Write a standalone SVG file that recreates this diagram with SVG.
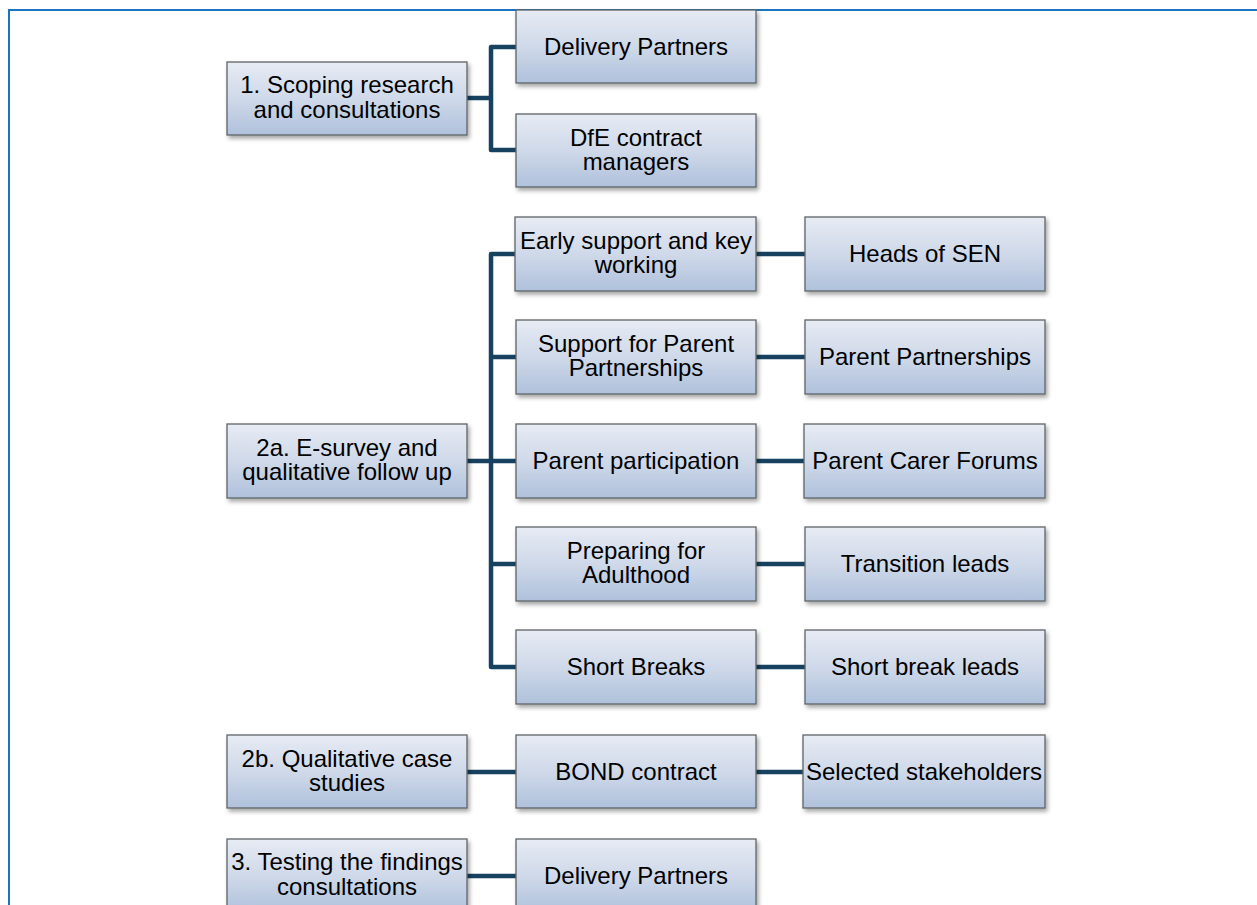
<svg xmlns="http://www.w3.org/2000/svg" width="1257" height="905" viewBox="0 0 1257 905">
<style>
.box{fill:url(#g);stroke:#5f6468;stroke-width:1.3;filter:url(#sh)}
.t{font-family:"Liberation Sans",Arial,sans-serif;font-size:24px;fill:#000;text-anchor:middle}
.c{fill:none;stroke:#17425f;stroke-width:4.5;stroke-linejoin:round}
</style>
<defs>
<linearGradient id="g" x1="0" y1="0" x2="0" y2="1">
<stop offset="0" stop-color="#e7ebf4"/>
<stop offset="0.5" stop-color="#cfd9e9"/>
<stop offset="1" stop-color="#afc1dc"/>
</linearGradient>
<filter id="sh" x="-10%" y="-10%" width="120%" height="130%">
<feDropShadow dx="2" dy="3" stdDeviation="2" flood-color="#000" flood-opacity="0.35"/>
</filter>
</defs>
<rect width="1257" height="905" fill="#fff"/>
<rect x="9" y="10" width="1270" height="920" fill="none" stroke="#1a74c2" stroke-width="2"/>
<g id="connectors">
<path class="c" d="M467 98H491M516 47H491V150H516"/>
<path class="c" d="M467 461H516M516 254H491V667H516M491 357H516M491 564H516"/>
<path class="c" d="M756 254H805M756 357H805M756 461H804M756 564H805M756 667H805"/>
<path class="c" d="M467 772H516M756 772H803"/>
<path class="c" d="M467 876H516"/>
</g>
<g id="n1"><rect class="box" x="227" y="62" width="240" height="73"/><text class="t" x="347" y="93">1. Scoping research</text><text class="t" x="347" y="118">and consultations</text></g>
<g id="n1a"><rect class="box" x="516" y="10" width="240" height="73"/><text class="t" x="636" y="55">Delivery Partners</text></g>
<g id="n1b"><rect class="box" x="516" y="114" width="240" height="73"/><text class="t" x="636" y="146">DfE contract</text><text class="t" x="636" y="170">managers</text></g>
<g id="n2a"><rect class="box" x="227" y="424" width="240" height="74"/><text class="t" x="347" y="456">2a. E-survey and</text><text class="t" x="347" y="480">qualitative follow up</text></g>
<g id="m1"><rect class="box" x="515" y="217" width="241" height="74"/><text class="t" x="636" y="249">Early support and key</text><text class="t" x="636" y="273">working</text></g>
<g id="r1"><rect class="box" x="805" y="217" width="240" height="74"/><text class="t" x="925" y="262">Heads of SEN</text></g>
<g id="m2"><rect class="box" x="516" y="320" width="240" height="74"/><text class="t" x="636" y="352">Support for Parent</text><text class="t" x="636" y="376">Partnerships</text></g>
<g id="r2"><rect class="box" x="805" y="320" width="240" height="74"/><text class="t" x="925" y="365">Parent Partnerships</text></g>
<g id="m3"><rect class="box" x="516" y="424" width="240" height="74"/><text class="t" x="636" y="469">Parent participation</text></g>
<g id="r3"><rect class="box" x="804" y="424" width="241" height="74"/><text class="t" x="925" y="469">Parent Carer Forums</text></g>
<g id="m4"><rect class="box" x="516" y="527" width="240" height="74"/><text class="t" x="636" y="559">Preparing for</text><text class="t" x="636" y="583">Adulthood</text></g>
<g id="r4"><rect class="box" x="805" y="527" width="240" height="74"/><text class="t" x="925" y="572">Transition leads</text></g>
<g id="m5"><rect class="box" x="516" y="630" width="240" height="74"/><text class="t" x="636" y="675">Short Breaks</text></g>
<g id="r5"><rect class="box" x="805" y="630" width="240" height="74"/><text class="t" x="925" y="675">Short break leads</text></g>
<g id="n2b"><rect class="box" x="227" y="735" width="240" height="73"/><text class="t" x="347" y="767">2b. Qualitative case</text><text class="t" x="347" y="791">studies</text></g>
<g id="m6"><rect class="box" x="516" y="735" width="240" height="73"/><text class="t" x="636" y="780">BOND contract</text></g>
<g id="r6"><rect class="box" x="803" y="735" width="242" height="73"/><text class="t" x="924" y="780">Selected stakeholders</text></g>
<g id="n3"><rect class="box" x="227" y="839" width="240" height="74"/><text class="t" x="347" y="870">3. Testing the findings</text><text class="t" x="347" y="895">consultations</text></g>
<g id="m7"><rect class="box" x="516" y="839" width="240" height="74"/><text class="t" x="636" y="884">Delivery Partners</text></g>
</svg>
